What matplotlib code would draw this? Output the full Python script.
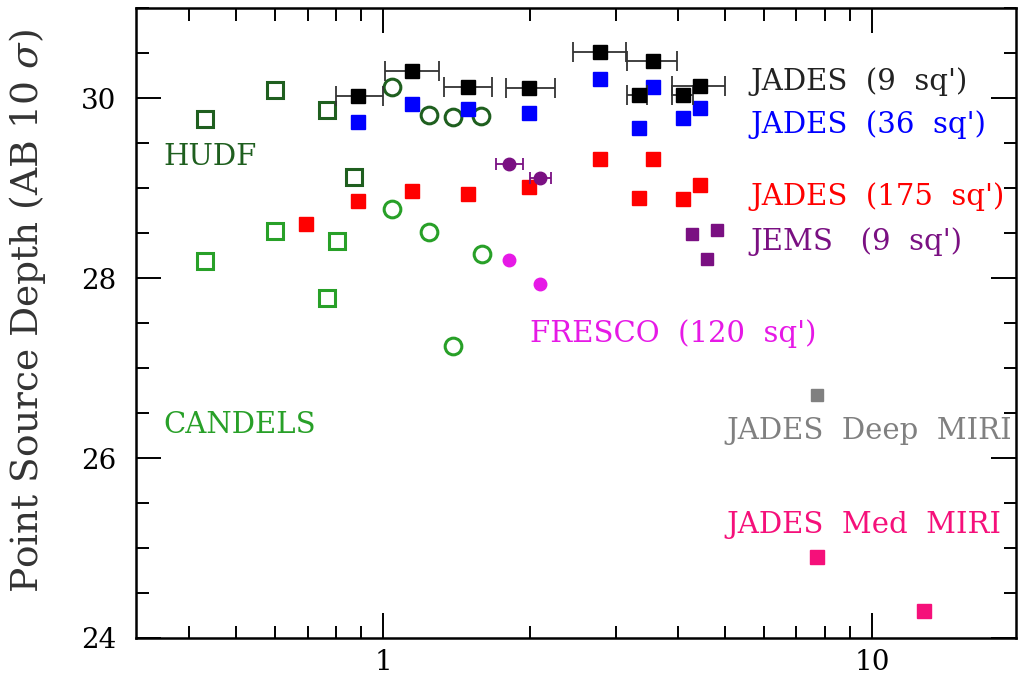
import numpy as np
import matplotlib.pyplot as plt
from matplotlib.ticker import FixedLocator, MultipleLocator, NullFormatter, FixedFormatter

plt.rcParams['font.family'] = 'DejaVu Serif'
plt.rcParams['mathtext.fontset'] = 'dejavuserif'

# JADES (9 sq') - black squares with wavelength ranges
j9_x = [0.889, 1.146, 1.49, 1.99, 2.77, 3.57, 3.34, 4.11, 4.45]
j9_y = [30.02, 30.30, 30.12, 30.11, 30.51, 30.41, 30.04, 30.03, 30.14]
j9_lo = [0.80, 1.01, 1.33, 1.78, 2.44, 3.15, 3.16, 3.90, 3.90]
j9_hi = [1.00, 1.30, 1.67, 2.25, 3.14, 3.99, 3.46, 4.30, 5.00]

# JADES (36 sq')
j36_x = [0.889, 1.146, 1.49, 1.99, 2.77, 3.57, 3.34, 4.11, 4.45]
j36_y = [29.74, 29.94, 29.88, 29.83, 30.21, 30.13, 29.67, 29.78, 29.89]

# JADES (175 sq')
j175_x = [0.696, 0.889, 1.146, 1.49, 1.99, 2.77, 3.57, 3.34, 4.11, 4.45]
j175_y = [28.60, 28.86, 28.97, 28.93, 29.01, 29.32, 29.32, 28.89, 28.88, 29.03]

# JEMS (9 sq')
jems_cx = [1.81, 2.09]
jems_cy = [29.27, 29.11]
jems_clo = [1.70, 2.00]
jems_chi = [1.93, 2.20]
jems_sx = [4.28, 4.82, 4.60]
jems_sy = [28.49, 28.54, 28.21]

# FRESCO (120 sq')
fresco_x = [1.81, 2.09]
fresco_y = [28.20, 27.94]

# HUDF
hudf_sx = [0.431, 0.601, 0.768, 0.872]
hudf_sy = [29.77, 30.09, 29.87, 29.12]
hudf_cx = [1.043, 1.242, 1.39, 1.586]
hudf_cy = [30.12, 29.81, 29.79, 29.80]

# CANDELS
cand_sx = [0.431, 0.601, 0.806, 0.768]
cand_sy = [28.19, 28.52, 28.41, 27.78]
cand_cx = [1.043, 1.242, 1.594, 1.39]
cand_cy = [28.77, 28.51, 28.27, 27.24]

# MIRI
deep_x = [7.73]
deep_y = [26.70]
med_x = [7.73, 12.8]
med_y = [24.90, 24.30]

black = '#000000'
blue = '#0000ff'
red = '#ff0000'
purple = '#7a1082'
magenta = '#e619e6'
dkgreen = '#1f5f1f'
green = '#28a028'
gray = '#808080'
pink = '#f5107a'

fig = plt.figure(figsize=(10.19, 6.86), dpi=100)
ax = fig.add_axes([0.1335, 0.070, 0.8635, 0.918])

ms = 10
# HUDF / CANDELS open symbols
ax.plot(hudf_sx, hudf_sy, 's', ms=11, mfc='none', mec=dkgreen, mew=2.2, ls='none')
ax.plot(hudf_cx, hudf_cy, 'o', ms=12, mfc='none', mec=dkgreen, mew=2.2, ls='none')
ax.plot(cand_sx, cand_sy, 's', ms=11, mfc='none', mec=green, mew=2.2, ls='none')
ax.plot(cand_cx, cand_cy, 'o', ms=12, mfc='none', mec=green, mew=2.2, ls='none')

ax.plot(j175_x, j175_y, 's', ms=ms, color=red, ls='none')
ax.plot(j36_x, j36_y, 's', ms=ms, color=blue, ls='none')

j9_err = [np.array(j9_x) - np.array(j9_lo), np.array(j9_hi) - np.array(j9_x)]
ax.errorbar(j9_x, j9_y, xerr=j9_err, fmt='s', ms=ms, color=black,
            ecolor='#333333', elinewidth=1.3, capsize=7, capthick=1.3)

jems_err = [np.array(jems_cx) - np.array(jems_clo), np.array(jems_chi) - np.array(jems_cx)]
ax.errorbar(jems_cx, jems_cy, xerr=jems_err, fmt='o', ms=9, color=purple,
            elinewidth=1.3, capsize=4, capthick=1.3)
ax.plot(jems_sx, jems_sy, 's', ms=9, color=purple, ls='none')

ax.plot(fresco_x, fresco_y, 'o', ms=9, color=magenta, ls='none')
ax.plot(deep_x, deep_y, 's', ms=9, color=gray, ls='none')
ax.plot(med_x, med_y, 's', ms=10, color=pink, ls='none')

# labels
fs = 21
ax.text(0.355, 29.26, 'HUDF', color=dkgreen, fontsize=fs, va='baseline')
ax.text(0.355, 26.28, 'CANDELS', color=green, fontsize=fs, va='baseline')
ax.text(5.63, 30.09, "JADES  (9  sq')", color='#222222', fontsize=fs, va='baseline')
ax.text(5.63, 29.61, "JADES  (36  sq')", color=blue, fontsize=fs, va='baseline')
ax.text(5.63, 28.81, "JADES  (175  sq')", color=red, fontsize=fs, va='baseline')
ax.text(5.63, 28.31, "JEMS   (9  sq')", color=purple, fontsize=fs, va='baseline')
ax.text(2.0, 27.29, "FRESCO  (120  sq')", color=magenta, fontsize=fs, va='baseline')
ax.text(5.03, 26.21, "JADES  Deep  MIRI", color=gray, fontsize=fs, va='baseline')
ax.text(5.03, 25.17, "JADES  Med  MIRI", color=pink, fontsize=fs, va='baseline')

ax.set_xscale('log')
ax.set_xlim(0.312, 19.7)
ax.set_ylim(24, 31)

ax.xaxis.set_major_locator(FixedLocator([1, 10]))
ax.xaxis.set_major_formatter(FixedFormatter(['1', '10']))
ax.xaxis.set_minor_locator(FixedLocator([0.4, 0.5, 0.6, 0.7, 0.8, 0.9,
                                         2, 3, 4, 5, 6, 7, 8, 9]))
ax.xaxis.set_minor_formatter(NullFormatter())
ax.yaxis.set_major_locator(MultipleLocator(2))
ax.yaxis.set_minor_locator(MultipleLocator(0.5))

ax.tick_params(which='both', direction='in', top=True, right=True,
               labelsize=20, width=1.4)
ax.tick_params(which='major', length=18)
ax.tick_params(which='minor', length=9)
ax.tick_params(axis='y', pad=14)
ax.tick_params(axis='x', pad=8)
for s in ax.spines.values():
    s.set_linewidth(1.8)

ax.set_ylabel(r'Point Source Depth (AB 10 $\sigma$)', fontsize=27, color='#333333')
ax.yaxis.set_label_coords(-0.100, 0.519)

fig.savefig('out.png', dpi=100)
